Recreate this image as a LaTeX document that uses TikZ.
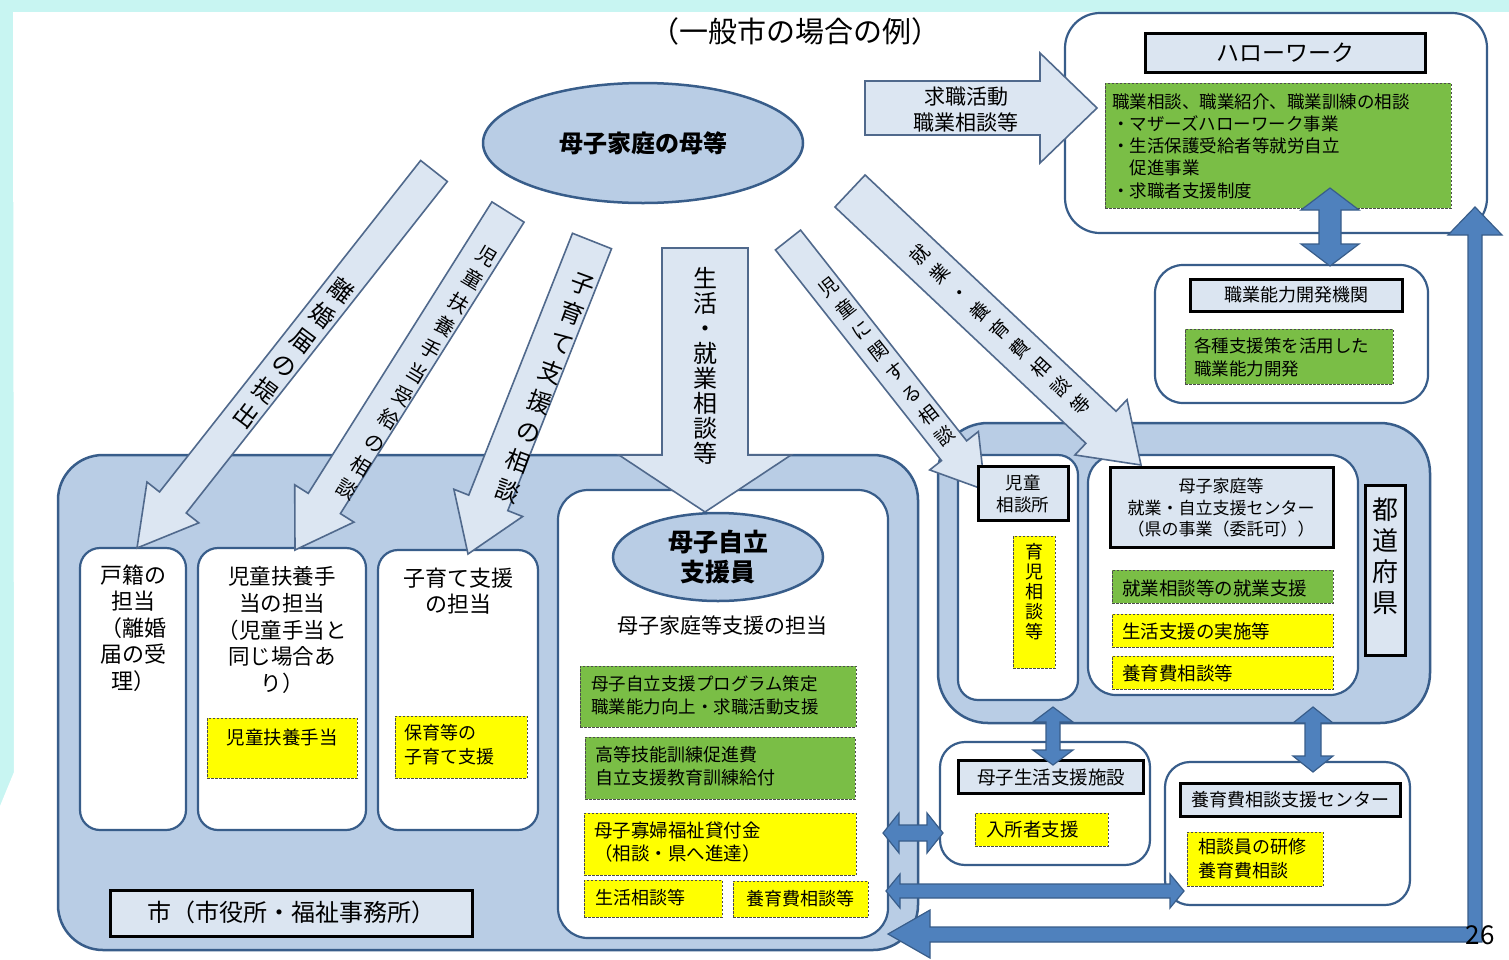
\documentclass[tikz,border=0pt]{standalone}
\usepackage{fontspec}
\setmainfont{Noto Sans CJK JP}
\usetikzlibrary{calc,shapes.geometric}
\definecolor{bgcyan}{RGB}{200,245,242}
\definecolor{ltblue}{RGB}{185,205,229}
\definecolor{arrfill}{RGB}{220,230,242}
\definecolor{dkblue}{RGB}{56,93,138}
\definecolor{arrborder}{RGB}{80,105,140}
\definecolor{ttlfill}{RGB}{219,229,241}
\definecolor{grn}{RGB}{122,190,70}
\definecolor{ylw}{RGB}{255,255,0}
\definecolor{midblue}{RGB}{79,129,189}
\newcommand\fs[2]{\fontsize{#1}{#2}\selectfont}
% single fat arrow: start, tip, half width, head half width, head length, style
\newcommand\fatarrow[6]{%
  \coordinate (fa-c) at ($(#2)!#5!(#1)$);
  \path[#6] ($(#1)!#3!90:(#2)$) -- ($(fa-c)!#3!90:(#2)$) -- ($(fa-c)!#4!90:(#2)$) -- (#2)
    -- ($(fa-c)!#4!-90:(#2)$) -- ($(fa-c)!#3!-90:(#2)$) -- ($(#1)!#3!-90:(#2)$) -- cycle;}
% double arrow: end1, end2, half width, head half width, head length, style
\newcommand\dblarrow[6]{%
  \coordinate (da-c1) at ($(#1)!#5!(#2)$);
  \coordinate (da-c2) at ($(#2)!#5!(#1)$);
  \path[#6] (#1) -- ($(da-c1)!#4!90:(#2)$) -- ($(da-c1)!#3!90:(#2)$) -- ($(da-c2)!#3!90:(#2)$)
    -- ($(da-c2)!#4!90:(#2)$) -- (#2) -- ($(da-c2)!#4!-90:(#2)$) -- ($(da-c2)!#3!-90:(#2)$)
    -- ($(da-c1)!#3!-90:(#2)$) -- ($(da-c1)!#4!-90:(#2)$) -- cycle;}
\begin{document}
\begin{tikzpicture}[x=1pt,y=-1pt,
  every node/.style={inner sep=0pt, outer sep=0pt},
  container/.style={draw=dkblue, line width=2.5pt, fill=ltblue, rounded corners=45pt, anchor=north west},
  whitebox/.style={draw=dkblue, line width=2.2pt, fill=white, rounded corners=20pt, anchor=north west},
  ttlbox/.style={draw=black, line width=3pt, fill=ttlfill, anchor=north west},
  grnbox/.style={draw=black!70, line width=1pt, dash pattern=on 2.5pt off 1.5pt, fill=grn, anchor=north west},
  ylwbox/.style={draw=black!70, line width=1pt, dash pattern=on 2.5pt off 1.5pt, fill=ylw, anchor=north west},
  fat/.style={draw=arrborder, line width=1.6pt, fill=arrfill},
  bluearr/.style={draw=dkblue, line width=1.2pt, fill=midblue},
  vtxt/.style={align=center}
]
\useasboundingbox (0,0) rectangle (1509,959);
% background
\fill[bgcyan] (0,0) rectangle (1509,959);
\fill[white] (13,12) -- (1509,12) -- (1509,959) -- (0,959) -- (0,806) -- (14,772) -- cycle;

% title
\node[font=\fs{29}{32}] (title) at (795,31) {（一般市の場合の例）};

% containers
\node[container, minimum width=860pt, minimum height=495pt] (city) at (58,455) {};
\node[container, minimum width=492pt, minimum height=300pt, rounded corners=50pt] (pref) at (938,423) {};

% city white boxes
\node[whitebox, minimum width=106pt, minimum height=282pt] (koseki) at (80,548) {};
\node[whitebox, minimum width=168pt, minimum height=282pt] (jidofuyo) at (198,548) {};
\node[whitebox, minimum width=160pt, minimum height=280pt] (kosodate) at (378,550) {};
\node[whitebox, minimum width=330pt, minimum height=448pt, rounded corners=30pt] (boshibox) at (558,490) {};

% prefecture white boxes
\node[whitebox, minimum width=120pt, minimum height=245pt] (jidosodan) at (958,455) {};
\node[whitebox, minimum width=270pt, minimum height=240pt, rounded corners=28pt] (center) at (1088,455) {};

% other institutions
\node[whitebox, minimum width=422pt, minimum height=220pt, rounded corners=35pt] (hw) at (1065,13) {};
\node[whitebox, minimum width=273pt, minimum height=138pt, rounded corners=28pt] (noryoku) at (1155,265) {};
\node[whitebox, minimum width=210pt, minimum height=123pt, rounded corners=25pt] (shisetsu) at (940,742) {};
\node[whitebox, minimum width=245pt, minimum height=143pt, rounded corners=25pt] (yoiku) at (1165,762) {};

% mother ellipse
\node[ellipse, draw=dkblue, line width=2.5pt, fill=ltblue, minimum width=320pt, minimum height=120pt, font=\fs{24}{26}\bfseries] (mother) at (643,143) {母子家庭の母等};

% light fat arrows
\coordinate (a1s) at (434,171); \coordinate (a1t) at (137,548);
\fatarrow{a1s}{a1t}{17pt}{33pt}{58pt}{fat}
\node[vtxt, font=\fs{24}{31.5}, rotate=-37] (a1txt) at (294,353) {離\\婚\\届\\の\\提\\出};

\coordinate (a2s) at (508,212); \coordinate (a2t) at (295,550);
\fatarrow{a2s}{a2t}{19pt}{35pt}{55pt}{fat}
\node[vtxt, font=\fs{20}{27.2}, rotate=-31] (a2txt) at (417,373) {児\\童\\扶\\養\\手\\当\\受\\給\\の\\相\\談};

\coordinate (a3s) at (592,241); \coordinate (a3t) at (468,554);
\fatarrow{a3s}{a3t}{21pt}{37pt}{55pt}{fat}
\node[vtxt, font=\fs{24}{31.5}, rotate=-20] (a3txt) at (545,388) {子\\育\\て\\支\\援\\の\\相\\談};

\coordinate (a4s) at (705,248); \coordinate (a4t) at (705,512);
\fatarrow{a4s}{a4t}{43pt}{86pt}{57pt}{fat}
\node[vtxt, font=\fs{24}{25}] (a4txt) at (705,366) {生\\活\\・\\就\\業\\相\\談\\等};

\coordinate (a5s) at (788,240); \coordinate (a5t) at (985,490);
\fatarrow{a5s}{a5t}{16pt}{31pt}{50pt}{fat}
\node[vtxt, font=\fs{19}{27}, rotate=38] (a5txt) at (887,362) {児\\童\\に\\関\\す\\る\\相\\談};

\coordinate (a6s) at (850,191); \coordinate (a6t) at (1141,465);
\fatarrow{a6s}{a6t}{22pt}{38pt}{55pt}{fat}
\node[vtxt, font=\fs{19}{27.5}, rotate=47] (a6txt) at (1000,330) {就\\業\\・\\養\\育\\費\\相\\談\\等};

\coordinate (a7s) at (865,108); \coordinate (a7t) at (1097,108);
\fatarrow{a7s}{a7t}{27pt}{55pt}{57pt}{fat}
\node[align=center, font=\fs{21}{26}] (a7txt) at (966,110) {求職活動\\職業相談等};

% city contents
\node[align=center, font=\fs{22}{26.5}] (koseki-t) at (133,628) {戸籍の\\担当\\（離婚\\届の受\\理）};
\node[align=center, font=\fs{21.5}{26.8}] (jidofuyo-t) at (282,630) {児童扶養手\\当の担当\\（児童手当と\\同じ場合あ\\り）};
\node[ylwbox, minimum width=150pt, minimum height=60pt] (jidofuyo-y) at (207,718) {};
\node[font=\fs{18.5}{22}] (jidofuyo-yt) at (282,737) {児童扶養手当};
\node[align=center, font=\fs{22}{26.5}] (kosodate-t) at (458,591) {子育て支援\\の担当};
\node[ylwbox, minimum width=132pt, minimum height=62pt] (kosodate-y) at (395,716) {};
\node[align=left, anchor=west, font=\fs{18}{24}] (kosodate-yt) at (404,745) {保育等の\\子育て支援};

\node[ttlbox, minimum width=362pt, minimum height=46pt] (city-t) at (110,890) {};
\node[font=\fs{24}{26}] (city-tt) at (291,912) {市（市役所・福祉事務所）};

% boshi jiritsu section
\node[font=\fs{21}{24}] (boshi-sub) at (722,625) {母子家庭等支援の担当};
\node[grnbox, minimum width=276pt, minimum height=61pt] (g1) at (580,666) {};
\node[align=left, anchor=west, font=\fs{17.5}{23}] (g1t) at (591,695) {母子自立支援プログラム策定\\職業能力向上・求職活動支援};
\node[grnbox, minimum width=270pt, minimum height=62pt] (g2) at (585,737) {};
\node[align=left, anchor=west, font=\fs{18}{23}] (g2t) at (595,766) {高等技能訓練促進費\\自立支援教育訓練給付};
\node[ylwbox, minimum width=272pt, minimum height=62pt] (y3) at (584,813) {};
\node[align=left, anchor=west, font=\fs{18.5}{23}] (y3t) at (594,842) {母子寡婦福祉貸付金\\（相談・県へ進達）};
\node[ylwbox, minimum width=138pt, minimum height=37pt] (y4) at (584,880) {};
\node[anchor=west, font=\fs{18}{22}] (y4t) at (595,898) {生活相談等};
\node[ylwbox, minimum width=135pt, minimum height=36pt] (y5) at (733,881) {};
\node[font=\fs{18}{22}] (y5t) at (800,899) {養育費相談等};

% prefecture contents
\node[ttlbox, minimum width=90pt, minimum height=54pt] (jidosodan-t) at (978,466) {};
\node[align=center, font=\fs{17.5}{22}] (jidosodan-tt) at (1023,494) {児童\\相談所};
\node[ylwbox, minimum width=42pt, minimum height=132pt] (ikuji) at (1013,536) {};
\node[vtxt, font=\fs{18}{20}] (ikuji-t) at (1034,592) {育\\児\\相\\談\\等};

\node[ttlbox, minimum width=223pt, minimum height=80pt] (center-t) at (1110,467) {};
\node[align=center, font=\fs{17}{21.5}] (center-tt) at (1221,508) {母子家庭等\\就業・自立支援センター\\（県の事業（委託可））};
\node[grnbox, minimum width=221pt, minimum height=33pt] (cg) at (1112,570) {};
\node[anchor=west, font=\fs{18.5}{22}] (cgt) at (1122,588) {就業相談等の就業支援};
\node[ylwbox, minimum width=221pt, minimum height=33pt] (cy1) at (1112,614) {};
\node[anchor=west, font=\fs{18.5}{22}] (cy1t) at (1122,631) {生活支援の実施等};
\node[ylwbox, minimum width=221pt, minimum height=33pt] (cy2) at (1112,656) {};
\node[anchor=west, font=\fs{18.5}{22}] (cy2t) at (1122,673) {養育費相談等};

\node[ttlbox, minimum width=40pt, minimum height=170pt] (pref-t) at (1365,485) {};
\node[vtxt, font=\fs{26}{31}] (pref-tt) at (1385,556) {都\\道\\府\\県};

% hello work
\node[ttlbox, minimum width=280pt, minimum height=39pt] (hw-t) at (1145,33) {};
\node[font=\fs{23}{26}] (hw-tt) at (1285,53) {ハローワーク};
\node[grnbox, minimum width=346pt, minimum height=125pt] (hw-g) at (1105,83) {};
\node[align=left, anchor=west, font=\fs{17.5}{22.3}] (hw-gt) at (1112,146) {職業相談、職業紹介、職業訓練の相談\\・マザーズハローワーク事業\\・生活保護受給者等就労自立\\　促進事業\\・求職者支援制度};

% noryoku
\node[ttlbox, minimum width=212pt, minimum height=32pt] (noryoku-t) at (1190,279) {};
\node[font=\fs{18}{22}] (noryoku-tt) at (1296,295) {職業能力開発機関};
\node[grnbox, minimum width=208pt, minimum height=55pt] (noryoku-g) at (1185,329) {};
\node[align=left, anchor=west, font=\fs{17.5}{23}] (noryoku-gt) at (1194,357) {各種支援策を活用した\\職業能力開発};

% shisetsu
\node[ttlbox, minimum width=185pt, minimum height=33pt] (shisetsu-t) at (958,760) {};
\node[font=\fs{18.5}{22}] (shisetsu-tt) at (1051,777) {母子生活支援施設};
\node[ylwbox, minimum width=133pt, minimum height=33pt] (shisetsu-y) at (975,813) {};
\node[anchor=west, font=\fs{18.5}{22}] (shisetsu-yt) at (986,829) {入所者支援};

% yoikuhi center
\node[ttlbox, minimum width=220pt, minimum height=33pt] (yoiku-t) at (1180,783) {};
\node[font=\fs{18}{22}] (yoiku-tt) at (1290,800) {養育費相談支援センター};
\node[ylwbox, minimum width=136pt, minimum height=54pt] (yoiku-y) at (1187,832) {};
\node[align=left, anchor=west, font=\fs{18}{24}] (yoiku-yt) at (1198,859) {相談員の研修\\養育費相談};

% boshi jiritsu ellipse
\node[ellipse, draw=dkblue, line width=2.5pt, fill=ltblue, minimum width=210pt, minimum height=88pt, align=center, font=\fs{25}{30}\bfseries] (shienin) at (718,557) {母子自立\\支援員};

% blue double arrows
\coordinate (b1a) at (1330,188); \coordinate (b1b) at (1330,266);
\dblarrow{b1a}{b1b}{11pt}{29pt}{22pt}{bluearr}
\coordinate (b2a) at (1053,707); \coordinate (b2b) at (1053,765);
\dblarrow{b2a}{b2b}{7pt}{20pt}{15pt}{bluearr}
\coordinate (b3a) at (1313,707); \coordinate (b3b) at (1313,772);
\dblarrow{b3a}{b3b}{8pt}{20pt}{16pt}{bluearr}
\coordinate (b4a) at (883,833); \coordinate (b4b) at (943,833);
\dblarrow{b4a}{b4b}{8pt}{20pt}{16pt}{bluearr}
\coordinate (b5a) at (886,891); \coordinate (b5b) at (1184,891);
\dblarrow{b5a}{b5b}{7pt}{17pt}{14pt}{bluearr}

% bent arrow (bottom and right)
\coordinate (lb) at (888,934); \coordinate (lt) at (1475,207);
\path[bluearr] (lb) -- (930,910) -- (930,927) -- (1468,927) -- (1468,235) -- (1448,235) -- (lt)
  -- (1502,235) -- (1482,235) -- (1482,942) -- (930,942) -- (930,958) -- cycle;

\node[font=\fs{26}{28}] (pagenum) at (1480,935) {26};
\end{tikzpicture}
\end{document}
